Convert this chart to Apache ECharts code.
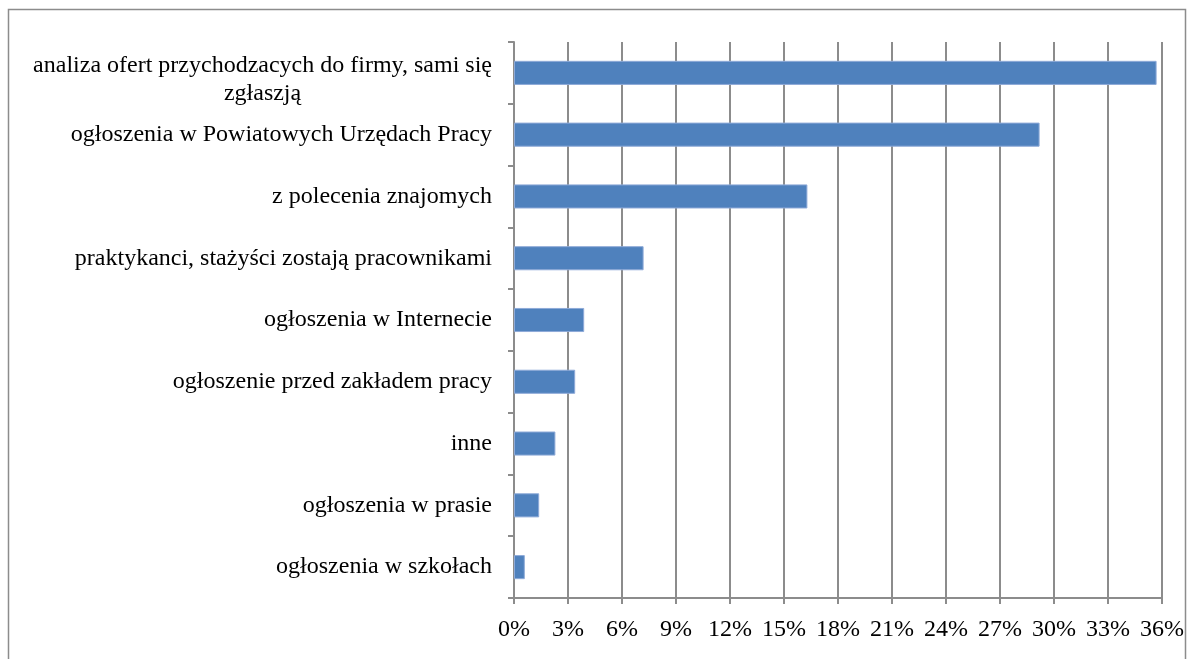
<!DOCTYPE html>
<html>
<head>
<meta charset="utf-8">
<script src="https://cdn.jsdelivr.net/npm/echarts@6/dist/echarts.min.js"></script>
<style>
  html, body { margin: 0; padding: 0; background: #fff; }
  #chart { width: 1187px; height: 659px; }
</style>
</head>
<body>
<div id="chart"></div>
<script>
  // kategorie (od góry do dołu)
  var categories = [
    'analiza ofert przychodzacych do firmy, sami się\nzgłaszją',
    'ogłoszenia w Powiatowych Urzędach Pracy',
    'z polecenia znajomych',
    'praktykanci, stażyści zostają pracownikami',
    'ogłoszenia w Internecie',
    'ogłoszenie przed zakładem pracy',
    'inne',
    'ogłoszenia w prasie',
    'ogłoszenia w szkołach'
  ];
  // udział w %
  var values = [35.7, 29.2, 16.3, 7.2, 3.9, 3.4, 2.3, 1.4, 0.6];
  var tickStep = 3;
  var axisMax = 36;

  var gridColor = '#8c8c8c';
  var font = '"Liberation Serif", "DejaVu Serif", serif';

  // dwuwierszowa etykieta jest w oryginale lekko obniżona
  var categoryData = categories.map(function (c) {
    if (c.indexOf('\n') >= 0) {
      return { value: c, textStyle: { padding: [14, 0, 0, 0] } };
    }
    return c;
  });

  var chart = echarts.init(document.getElementById('chart'));
  chart.setOption({
    backgroundColor: '#fff',
    animation: false,
    graphic: [{
      type: 'rect',
      shape: { x: 8.5, y: 9.5, width: 1177, height: 700 },
      style: { fill: 'none', stroke: '#8c8c8c', lineWidth: 1.5 },
      silent: true
    }],
    grid: {
      left: 514,
      right: 25,
      top: 42,
      bottom: 61,
      containLabel: false
    },
    xAxis: {
      type: 'value',
      min: 0,
      max: axisMax,
      interval: tickStep,
      axisLine: { show: true, lineStyle: { color: gridColor, width: 2 } },
      axisTick: { show: true, length: 6, lineStyle: { color: gridColor, width: 2 } },
      splitLine: { show: true, lineStyle: { color: gridColor, width: 2 } },
      axisLabel: {
        color: '#000',
        fontFamily: font,
        fontSize: 24,
        margin: 20,
        formatter: '{value}%'
      }
    },
    yAxis: {
      type: 'category',
      inverse: true,
      data: categoryData,
      axisLine: { show: true, lineStyle: { color: gridColor, width: 2 } },
      axisTick: { show: true, length: 6, lineStyle: { color: gridColor, width: 2 } },
      axisLabel: {
        color: '#000',
        fontFamily: font,
        fontSize: 24,
        margin: 22,
        formatter: function (v) {
          if (v.indexOf('\n') >= 0) {
            var parts = v.split('\n');
            return '{c|' + parts[0] + '}\n{c|' + parts[1] + '}';
          }
          return v;
        },
        rich: {
          c: {
            align: 'center',
            fontFamily: font,
            fontSize: 24,
            lineHeight: 28,
            color: '#000'
          }
        }
      }
    },
    series: [{
      type: 'bar',
      data: values,
      barWidth: '39%',
      itemStyle: {
        color: '#4f81bd',
        borderColor: '#8eaad8',
        borderWidth: 1
      }
    }]
  });
</script>
</body>
</html>
